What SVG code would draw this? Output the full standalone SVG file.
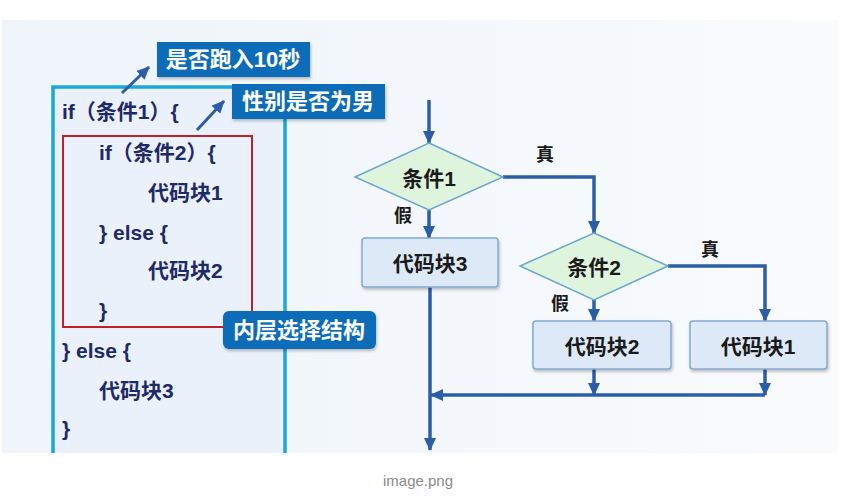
<svg xmlns="http://www.w3.org/2000/svg" width="861" height="504" viewBox="0 0 861 504">
<style>
.code{font-family:"Liberation Sans","Noto Sans CJK SC",sans-serif;font-weight:bold;font-size:21px;fill:#1e2a66}
.call{font-family:"Liberation Sans","Noto Sans CJK SC",sans-serif;font-weight:bold;font-size:22px;fill:#ffffff}
.callbox{fill:#0d6cb7}
.lbl{font-family:"Liberation Sans","Noto Sans CJK SC",sans-serif;font-weight:bold;font-size:21px;fill:#1a1a1a;text-anchor:middle;dominant-baseline:central}
.tf{font-family:"Liberation Sans","Noto Sans CJK SC",sans-serif;font-weight:bold;font-size:18px;fill:#1a1a1a;text-anchor:middle;dominant-baseline:central}
.dia{fill:#dff4dc;stroke:#6aa6cf;stroke-width:1.5}
.box{fill:#dde9f7;stroke:#86a9cf;stroke-width:1.5}
.conn{fill:none;stroke:#2b5ea7;stroke-width:3.5}
.pt{fill:none;stroke:#2b5ea7;stroke-width:3}
</style>
<defs>
<linearGradient id="bg" x1="0" y1="0" x2="1" y2="0">
<stop offset="0" stop-color="#eef4fa"/>
<stop offset="1" stop-color="#f9fbfd"/>
</linearGradient>
<marker id="ah" markerUnits="userSpaceOnUse" markerWidth="14" markerHeight="12" refX="12" refY="6" orient="auto">
<path d="M0,0 L13,6 L0,12 z" fill="#2b5ea7"/>
</marker>
<filter id="sh" x="-10%" y="-10%" width="120%" height="130%">
<feDropShadow dx="1" dy="2" stdDeviation="1.5" flood-color="#000" flood-opacity="0.25"/>
</filter>
</defs>
<rect x="0" y="0" width="861" height="504" fill="#ffffff"/>
<rect x="2" y="20" width="836" height="433" fill="url(#bg)"/>

<g id="code-panel">
<path d="M53,453 V87 H285 V453" fill="#eaf1fa" stroke="#1ba6dd" stroke-width="3.5"/>
<rect x="63" y="136" width="189" height="191" fill="none" stroke="#c0202a" stroke-width="2"/>
<text class="code" x="62" y="119">if（条件1）{</text>
<text class="code" x="99" y="160">if（条件2）{</text>
<text class="code" x="148" y="200">代码块1</text>
<text class="code" x="99" y="240">} else {</text>
<text class="code" x="148" y="278">代码块2</text>
<text class="code" x="99" y="318">}</text>
<text class="code" x="62" y="358">} else {</text>
<text class="code" x="99" y="398">代码块3</text>
<text class="code" x="62" y="436">}</text>
</g>

<g id="callout-run">
<rect class="callbox" x="157" y="42" width="153" height="35" filter="url(#sh)"/>
<text class="call" x="233" y="67" text-anchor="middle">是否跑入10秒</text>
<line class="pt" x1="122" y1="93" x2="149" y2="67" marker-end="url(#ah)"/>
</g>
<g id="callout-gender">
<rect class="callbox" x="232" y="84" width="153" height="35" filter="url(#sh)"/>
<text class="call" x="308" y="109" text-anchor="middle">性别是否为男</text>
<line class="pt" x1="197" y1="130" x2="224" y2="101" marker-end="url(#ah)"/>
</g>
<g id="callout-inner">
<rect class="callbox" x="223" y="311" width="153" height="38" rx="6" filter="url(#sh)"/>
<text class="call" x="299" y="338" text-anchor="middle">内层选择结构</text>
</g>

<g id="connectors">
<path class="conn" d="M429,100 V143" marker-end="url(#ah)"/>
<path class="conn" d="M503,177 H594 V233" marker-end="url(#ah)"/>
<path class="conn" d="M429,210 V238" marker-end="url(#ah)"/>
<path class="conn" d="M668,266 H765 V321" marker-end="url(#ah)"/>
<path class="conn" d="M594,300 V321" marker-end="url(#ah)"/>
<path class="conn" d="M594,369 V395" marker-end="url(#ah)"/>
<path class="conn" d="M765,369 V395" marker-end="url(#ah)"/>
<path class="conn" d="M765,395 H431" marker-end="url(#ah)"/>
<path class="conn" d="M430,287 V450" marker-end="url(#ah)"/>
<text class="tf" x="545" y="155">真</text>
<text class="tf" x="403" y="216">假</text>
<text class="tf" x="710" y="250">真</text>
<text class="tf" x="560" y="304">假</text>
</g>

<g id="cond1">
<polygon class="dia" points="429,143 503,177 429,210 355,177"/>
<text class="lbl" x="429" y="178" font-size="20">条件1</text>
</g>
<g id="cond2">
<polygon class="dia" points="594,233 668,266 594,300 520,266"/>
<text class="lbl" x="594" y="267" font-size="20">条件2</text>
</g>
<g id="block3">
<rect class="box" x="362" y="238" width="136" height="49" rx="3" filter="url(#sh)"/>
<text class="lbl" x="430" y="263">代码块3</text>
</g>
<g id="block2">
<rect class="box" x="533" y="321" width="138" height="48" rx="3" filter="url(#sh)"/>
<text class="lbl" x="602" y="346">代码块2</text>
</g>
<g id="block1">
<rect class="box" x="690" y="321" width="137" height="48" rx="3" filter="url(#sh)"/>
<text class="lbl" x="758" y="346">代码块1</text>
</g>

<text x="418" y="486" text-anchor="middle" font-family="Liberation Sans, sans-serif" font-size="15" fill="#8a8a8a">image.png</text>
</svg>
